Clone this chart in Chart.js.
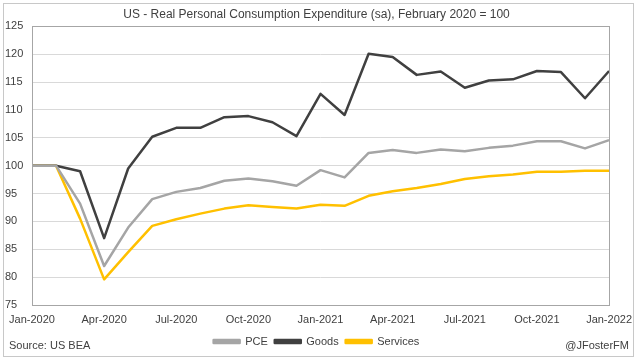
<!DOCTYPE html>
<html>
<head>
<meta charset="utf-8">
<script src="https://cdn.jsdelivr.net/npm/chart.js@4/dist/chart.umd.min.js"></script>
<style>
  body { margin: 0; background: #fff; }
  #wrap { width: 640px; height: 359px; }
</style>
</head>
<body>
<div id="wrap"><canvas id="pce-chart"></canvas></div>
<script>
// monthly, Jan-2020 .. Jan-2022
const months = [
  'Jan-2020', 'Feb-2020', 'Mar-2020', 'Apr-2020', 'May-2020', 'Jun-2020',
  'Jul-2020', 'Aug-2020', 'Sep-2020', 'Oct-2020', 'Nov-2020', 'Dec-2020',
  'Jan-2021', 'Feb-2021', 'Mar-2021', 'Apr-2021', 'May-2021', 'Jun-2021',
  'Jul-2021', 'Aug-2021', 'Sep-2021', 'Oct-2021', 'Nov-2021', 'Dec-2021',
  'Jan-2022'
];
const pce = [100, 100, 93.2, 82.0, 88.9, 94.0, 95.3, 96.0, 97.3, 97.7, 97.2, 96.4,
  99.2, 97.9, 102.3, 102.8, 102.3, 102.9, 102.6, 103.2, 103.6, 104.4, 104.4, 103.1, 104.6];
const goods = [100, 100, 99.0, 87.0, 99.5, 105.2, 106.8, 106.8, 108.7, 108.9, 107.8, 105.3,
  112.9, 109.1, 120.1, 119.5, 116.3, 116.9, 114.0, 115.3, 115.5, 117.0, 116.8, 112.1, 117.0];
const services = [100, 100, 90.5, 79.6, 84.5, 89.2, 90.4, 91.4, 92.3, 92.9, 92.6, 92.3,
  93.0, 92.8, 94.6, 95.4, 96.0, 96.7, 97.6, 98.1, 98.4, 98.9, 98.9, 99.1, 99.1];

const FONT = "'Liberation Sans', Arial, sans-serif";

// chart border, plot border and the two footer notes
const frame = {
  id: 'frame',
  beforeDraw(chart) {
    const ctx = chart.ctx;
    ctx.save();
    ctx.strokeStyle = '#c8c8c8';
    ctx.lineWidth = 1;
    ctx.strokeRect(3.5, 3.5, 630, 353);
    ctx.restore();
  },
  afterDatasetsDraw(chart) {
    const ctx = chart.ctx;
    const a = chart.chartArea;
    ctx.save();
    ctx.strokeStyle = '#a6a6a6';
    ctx.lineWidth = 1;
    ctx.strokeRect(Math.round(a.left) + 0.5, Math.round(a.top) + 0.5,
      Math.round(a.right - a.left), Math.round(a.bottom - a.top));
    ctx.fillStyle = '#404040';
    ctx.font = '11px ' + FONT;
    ctx.textBaseline = 'middle';
    ctx.textAlign = 'left';
    ctx.fillText('Source: US BEA', 9, 346);
    ctx.textAlign = 'right';
    ctx.fillText('@JFosterFM', 629, 346);
    ctx.restore();
  }
};

new Chart(document.getElementById('pce-chart'), {
  type: 'line',
  data: {
    labels: months,
    datasets: [
      { label: 'PCE', data: pce, borderColor: '#a5a5a5', backgroundColor: '#a5a5a5' },
      { label: 'Goods', data: goods, borderColor: '#404040', backgroundColor: '#404040' },
      { label: 'Services', data: services, borderColor: '#ffc000', backgroundColor: '#ffc000' }
    ]
  },
  options: {
    responsive: true,
    maintainAspectRatio: false,
    animation: false,
    layout: { padding: { left: 5, right: 12, top: 3, bottom: 2 } },
    elements: {
      line: { borderWidth: 2.5, tension: 0, borderJoinStyle: 'round' },
      point: { radius: 0 }
    },
    plugins: {
      title: {
        display: true,
        text: 'US - Real Personal Consumption Expenditure (sa), February 2020 = 100',
        color: '#404040',
        font: { family: FONT, size: 12, weight: 'normal' },
        padding: { top: 4, bottom: 5 }
      },
      legend: {
        position: 'bottom',
        labels: {
          boxWidth: 26,
          boxHeight: 3,
          color: '#404040',
          font: { family: FONT, size: 11 },
          padding: 7
        }
      },
      tooltip: { enabled: false }
    },
    scales: {
      x: {
        offset: false,
        grid: { display: false, drawTicks: false },
        border: { display: false },
        afterFit: function(scale) { scale.height = 24; },
        ticks: {
          color: '#404040',
          font: { family: FONT, size: 11 },
          maxRotation: 0,
          autoSkip: false,
          padding: 8,
          callback: function(v, i) { return i % 3 === 0 ? months[i] : null; }
        }
      },
      y: {
        min: 75,
        max: 125,
        grid: { color: '#d9d9d9', drawTicks: false },
        border: { display: false },
        afterFit: function(scale) { scale.width = 27; },
        ticks: {
          stepSize: 5,
          color: '#404040',
          font: { family: FONT, size: 11 },
          crossAlign: 'far',
          padding: 4
        }
      }
    }
  },
  plugins: [frame]
});
</script>
</body>
</html>
